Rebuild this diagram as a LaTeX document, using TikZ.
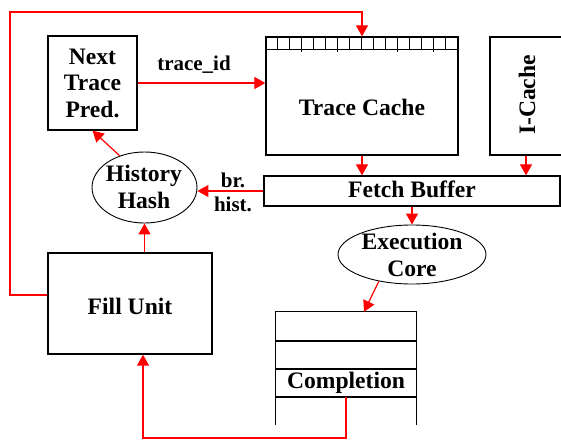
\documentclass[tikz,border=0pt]{standalone}
\usepackage{fontspec}
\setmainfont{Liberation Serif}
\usetikzlibrary{arrows.meta,shapes.geometric}
\begin{document}
\begin{tikzpicture}[x=1pt,y=-1pt,
  blk/.style={draw=black, line width=1.3pt, inner sep=0pt},
  thinblk/.style={draw=black, line width=1.2pt},
  oval/.style={draw=black, line width=0.9pt, ellipse, inner sep=0pt},
  big/.style={font=\fontsize{23.6}{26.5}\selectfont\bfseries, align=center, inner sep=0pt},
  small/.style={font=\fontsize{21}{24}\selectfont\bfseries, inner sep=0pt},
  flow/.style={draw=red, line width=1.2pt, -{Triangle[length=11pt,width=12pt]}},
]
\useasboundingbox (0,0) rectangle (561,441);

% boxes
\node[blk, big, minimum width=89pt, minimum height=94pt] (ntp) at (92.5,83) {Next\\Trace\\Pred.};

\node[blk, minimum width=192pt, minimum height=118pt] (tc) at (362,96) {};
\node[big, anchor=base] (tclabel) at (362,115) {Trace Cache};
\draw[thinblk] ([yshift=-13pt]tc.north west) -- ([yshift=-13pt]tc.north east);
\foreach \i in {1,...,15} \draw[thinblk] ([xshift={\i*12pt}]tc.north west) -- ++(0,13);
\foreach \i in {3,6,11,14} \draw[thinblk] ([xshift={\i*12pt}]tc.north west) -- ++(0,16);

\node[blk, minimum width=75pt, minimum height=118pt] (ic) at (527.5,96) {};
\node[big, rotate=90, anchor=base] (iclabel) at (535,95) {I-Cache};

\node[blk, minimum width=296pt, minimum height=30pt] (fb) at (412,191) {};
\node[big, anchor=base] (fblabel) at (412,197) {Fetch Buffer};

\node[oval, minimum width=105pt, minimum height=71pt] (hh) at (144.5,187.5) {};
\node[big] (hhlabel) at (144,187) {History\\Hash};

\node[oval, minimum width=148pt, minimum height=59pt] (ec) at (412,254.5) {};
\node[big] (eclabel) at (412,254.7) {Execution\\Core};

\node[blk, minimum width=164pt, minimum height=101pt] (fu) at (130,303.5) {};
\node[big, anchor=base] (fulabel) at (130,314) {Fill Unit};

% completion stack
\node[inner sep=0pt, minimum width=140pt, minimum height=113pt] (st) at (346,368.5) {};
\draw[blk] (st.south west) -- (st.north west) -- (st.north east) -- (st.south east);
\foreach \yy in {341,369,397} \draw[blk] (st.west |- 0,\yy) -- (st.east |- 0,\yy);
\node[big, anchor=base] (cplabel) at (346,388) {Completion};
\coordinate (cbot) at (346,397);

% connectors
\coordinate (tl) at (10,12);
\coordinate (bl) at (143,438);
\draw[flow] ([yshift=8.5pt]fu.west) -| (tl) -| (tc.north);
\draw[flow] (ntp.east) -- (ntp.east -| tc.west);
\node[small, anchor=base] (tid) at (194,71) {trace\_id};
\draw[flow] (tc.south) -- (tc.south |- fb.north);
\draw[flow] ([xshift=-1.5pt]ic.south) -- ([xshift=-1.5pt]ic.south |- fb.north);
\draw[flow] (fb.west) -- (hh.east |- fb.west);
\node[small, anchor=base] (br) at (233,187) {br.};
\node[small, anchor=base] (hist) at (233,211) {hist.};
\draw[flow] (fb.south) -- (ec.north);
\draw[flow] (ec.219) -- ([xshift=18pt]st.north);
\draw[flow] (hh.south |- fu.north) -- (hh.south);
\draw[flow] (hh.128) -- (ntp.south);
\draw[flow] (cbot) |- (bl) -- (bl |- fu.south);
\end{tikzpicture}
\end{document}
